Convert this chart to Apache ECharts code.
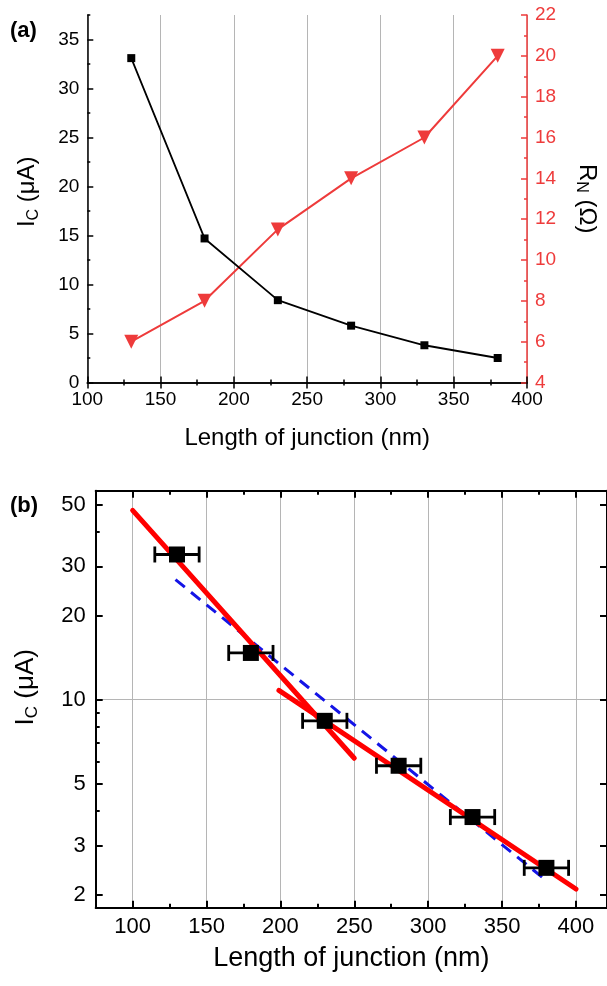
<!DOCTYPE html>
<html>
<head>
<meta charset="utf-8">
<script src="https://cdn.jsdelivr.net/npm/echarts@6/dist/echarts.min.js"></script>
<style>
html,body{margin:0;padding:0;background:#fff;}
#c{width:607px;height:986px;}
</style>
</head>
<body>
<div id="c"></div>
<script>
// ---- data ----
var lengthNm = [130, 180, 230, 280, 330, 380];
var icMicroA = [33.1, 14.7, 8.4, 5.8, 3.8, 2.5];
var rnOhm = [6, 8, 11.5, 14, 16, 20];
var lengthErr = [15, 15, 15, 15, 15, 15];
var fitSteep = [[100, 47.6], [250, 6.17]];
var fitShallow = [[199, 10.8], [400, 2.1]];
var fitDashed = [[129, 26.9], [380, 2.25]];

// tick labels
var aLeftTicks = [0, 5, 10, 15, 20, 25, 30, 35];
var bXTicks = [100, 150, 200, 250, 300, 350, 400];
var bXMinor = [125, 175, 225, 275, 325, 375];
var bYTicks = [2, 3, 5, 10, 20, 30, 50];
var bYMinor = [4, 6, 7, 8, 9, 40];

var FONT = 'Liberation Sans, Arial, sans-serif';
var RED = '#ee3b3b';

function pair(xs, ys) { return xs.map(function (x, i) { return [x, ys[i]]; }); }

var chart = echarts.init(document.getElementById('c'), null, {renderer: 'canvas'});

var gridA = {left: 87.3, top: 15, width: 450.7, height: 367.5};
var gridB = {left: 95.7, top: 490.7, width: 511.8, height: 417};

var blackLine = {lineStyle: {color: '#000', width: 1.5}};
var blackLineB = {lineStyle: {color: '#000', width: 2}};
var gridLine = {show: true, lineStyle: {color: '#b5b5b5', width: 1}};

var nameRichA = {
  i: {fontSize: 24, fontFamily: FONT, color: '#000'},
  s: {fontSize: 16, fontFamily: FONT, color: '#000', padding: [12, 0, 0, 0]}
};
var nameRichB = {
  i: {fontSize: 26, fontFamily: FONT, color: '#000'},
  s: {fontSize: 17, fontFamily: FONT, color: '#000', padding: [13, 0, 0, 0]}
};

var option = {
  animation: false,
  backgroundColor: '#fff',
  title: [
    {text: '(a)', left: 5, top: 15, textStyle: {fontFamily: FONT, fontWeight: 'bold', fontSize: 22, color: '#000'}},
    {text: '(b)', left: 5, top: 490, textStyle: {fontFamily: FONT, fontWeight: 'bold', fontSize: 22, color: '#000'}}
  ],
  grid: [gridA, gridB],
  xAxis: [
    // 0: panel a bottom
    {gridIndex: 0, type: 'value', position: 'bottom', min: 100, max: 400, interval: 50,
     axisLine: blackLine, axisTick: {inside: true, length: 6, lineStyle: {width: 1.5}},
     minorTick: {show: true, splitNumber: 2, length: 3, lineStyle: {color: '#000', width: 1.5}},
     axisLabel: {fontSize: 19, fontFamily: FONT, color: '#000', margin: 8},
     splitLine: gridLine,
     name: 'Length of junction (nm)', nameLocation: 'middle', nameGap: 44,
     nameTextStyle: {fontSize: 24, fontFamily: FONT, color: '#000'}},
    // 1: panel a top
    {gridIndex: 0, type: 'value', position: 'top', min: 100, max: 400, interval: 50,
     axisLine: blackLine, axisTick: {inside: true, length: 6, lineStyle: {width: 1.5}},
     minorTick: {show: true, splitNumber: 2, length: 3, lineStyle: {color: '#000', width: 1.5}},
     axisLabel: {show: false}, splitLine: {show: false}},
    // 2: panel b bottom
    {gridIndex: 1, type: 'value', position: 'bottom', min: 75, max: 421, splitNumber: 7,
     axisLine: blackLineB,
     axisTick: {inside: true, length: 7, customValues: bXTicks, lineStyle: {width: 2}},
     axisLabel: {customValues: bXTicks, fontSize: 22, fontFamily: FONT, color: '#000', margin: 8},
     splitLine: gridLine,
     name: 'Length of junction (nm)', nameLocation: 'middle', nameGap: 37,
     nameTextStyle: {fontSize: 27, fontFamily: FONT, color: '#000'}},
    // 3: panel b bottom minor
    {gridIndex: 1, type: 'value', position: 'bottom', min: 75, max: 421,
     axisLine: {show: false},
     axisTick: {inside: true, length: 4, customValues: bXMinor, lineStyle: {color: '#000', width: 2}},
     axisLabel: {show: false}, splitLine: {show: false}},
    // 4: panel b top
    {gridIndex: 1, type: 'value', position: 'top', min: 75, max: 421,
     axisLine: blackLineB,
     axisTick: {inside: true, length: 7, customValues: bXTicks, lineStyle: {width: 2}},
     axisLabel: {show: false}, splitLine: {show: false}},
    // 5: panel b top minor
    {gridIndex: 1, type: 'value', position: 'top', min: 75, max: 421,
     axisLine: {show: false},
     axisTick: {inside: true, length: 4, customValues: bXMinor, lineStyle: {color: '#000', width: 2}},
     axisLabel: {show: false}, splitLine: {show: false}}
  ],
  yAxis: [
    // 0: panel a left
    {gridIndex: 0, type: 'value', position: 'left', min: 0, max: 37.5,
     axisLine: blackLine,
     axisTick: {inside: true, length: 6, customValues: aLeftTicks, lineStyle: {width: 1.5}},
     axisLabel: {customValues: aLeftTicks, fontSize: 19, fontFamily: FONT, color: '#000', margin: 8},
     splitLine: {show: false},
     name: '{i|I}{s|C}{i| (μA)}', nameLocation: 'middle', nameRotate: 90, nameGap: 46,
     nameTextStyle: {rich: nameRichA, padding: [0, 0, 0, 14]}},
    // 1: panel a left minor
    {gridIndex: 0, type: 'value', position: 'left', min: 0, max: 37.5, interval: 2.5,
     axisLine: {show: false},
     axisTick: {inside: true, length: 3, lineStyle: {color: '#000', width: 1.5}},
     axisLabel: {show: false}, splitLine: {show: false}},
    // 2: panel a right (red)
    {gridIndex: 0, type: 'value', position: 'right', min: 4, max: 22, interval: 2,
     axisLine: {lineStyle: {color: RED, width: 1.5}},
     axisTick: {inside: true, length: 6, lineStyle: {color: RED, width: 1.5}},
     minorTick: {show: true, splitNumber: 2, length: 3, lineStyle: {color: RED, width: 1.5}},
     axisLabel: {fontSize: 19, fontFamily: FONT, color: RED, margin: 8},
     splitLine: {show: false},
     name: '{i|R}{s|N}{i| (Ω)}', nameLocation: 'middle', nameRotate: -90, nameGap: 46,
     nameTextStyle: {rich: nameRichA}},
    // 3: panel b left (log)
    {gridIndex: 1, type: 'log', logBase: 10, position: 'left', min: 1.8, max: 56,
     axisLine: blackLineB,
     axisTick: {inside: true, length: 7, customValues: bYTicks, lineStyle: {width: 2}},
     axisLabel: {customValues: bYTicks, fontSize: 22, fontFamily: FONT, color: '#000', margin: 10},
     splitLine: {show: false},
     name: '{i|I}{s|C}{i| (μA)}', nameLocation: 'middle', nameRotate: 90, nameGap: 55,
     nameTextStyle: {rich: nameRichB, padding: [0, 0, 0, 24]}},
    // 4: panel b left minor
    {gridIndex: 1, type: 'log', logBase: 10, position: 'left', min: 1.8, max: 56,
     axisLine: {show: false},
     axisTick: {inside: true, length: 4, customValues: bYMinor, lineStyle: {color: '#000', width: 2}},
     axisLabel: {show: false}, splitLine: {show: false}},
    // 5: panel b split line at decade
    {gridIndex: 1, type: 'log', logBase: 10, position: 'left', min: 1.8, max: 56,
     axisLine: {show: false}, axisTick: {show: false}, axisLabel: {show: false},
     splitLine: gridLine},
    // 6: panel b right
    {gridIndex: 1, type: 'log', logBase: 10, position: 'right', min: 1.8, max: 56,
     axisLine: blackLineB,
     axisTick: {inside: true, length: 7, customValues: bYTicks, lineStyle: {width: 2}},
     axisLabel: {show: false}, splitLine: {show: false}}
  ],
  series: [
    // panel a
    {type: 'line', xAxisIndex: 0, yAxisIndex: 2, data: pair(lengthNm, rnOhm),
     symbol: 'triangle', symbolRotate: 180, symbolSize: 14,
     lineStyle: {color: RED, width: 2}, itemStyle: {color: RED, opacity: 1}, z: 3},
    {type: 'line', xAxisIndex: 0, yAxisIndex: 0, data: pair(lengthNm, icMicroA),
     symbol: 'rect', symbolSize: 8,
     lineStyle: {color: '#000', width: 1.8}, itemStyle: {color: '#000', opacity: 1}, z: 4},
    // panel b fits
    {type: 'line', xAxisIndex: 2, yAxisIndex: 3, data: fitDashed, symbol: 'none',
     lineStyle: {color: '#1414e6', width: 3, type: [12, 8]}, z: 2},
    {type: 'line', xAxisIndex: 2, yAxisIndex: 3, data: fitSteep, symbol: 'none',
     lineStyle: {color: '#ff0000', width: 5, cap: 'round'}, z: 3},
    {type: 'line', xAxisIndex: 2, yAxisIndex: 3, data: fitShallow, symbol: 'none',
     lineStyle: {color: '#ff0000', width: 5, cap: 'round'}, z: 3},
    // panel b error bars
    {type: 'custom', xAxisIndex: 2, yAxisIndex: 3, z: 4,
     data: lengthNm.map(function (x, i) { return [x, icMicroA[i], x - lengthErr[i], x + lengthErr[i]]; }),
     renderItem: function (params, api) {
       var y = api.value(1);
       var p1 = api.coord([api.value(2), y]);
       var p2 = api.coord([api.value(3), y]);
       var h = 8;
       var st = {stroke: '#000', lineWidth: 2.8};
       return {type: 'group', children: [
         {type: 'line', shape: {x1: p1[0], y1: p1[1], x2: p2[0], y2: p2[1]}, style: st},
         {type: 'line', shape: {x1: p1[0], y1: p1[1] - h, x2: p1[0], y2: p1[1] + h}, style: st},
         {type: 'line', shape: {x1: p2[0], y1: p2[1] - h, x2: p2[0], y2: p2[1] + h}, style: st}
       ]};
     }},
    {type: 'scatter', xAxisIndex: 2, yAxisIndex: 3, data: pair(lengthNm, icMicroA),
     symbol: 'rect', symbolSize: 16, itemStyle: {color: '#000', opacity: 1}, z: 5}
  ]
};
chart.setOption(option);
</script>
</body>
</html>
